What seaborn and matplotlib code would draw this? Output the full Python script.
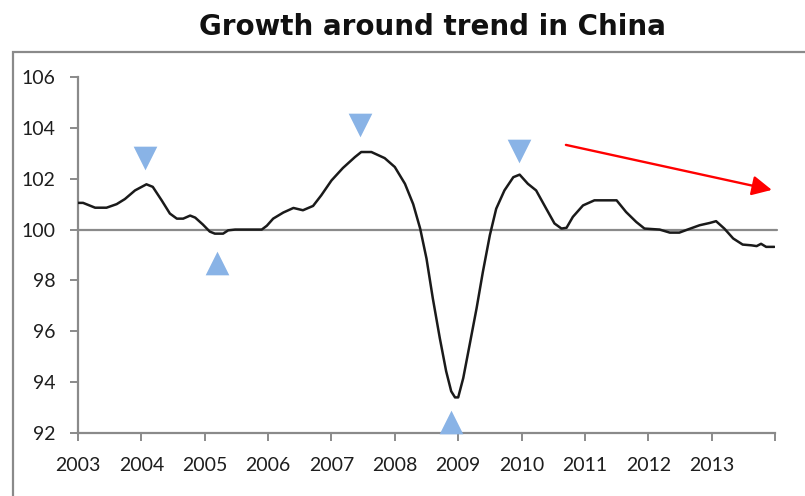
import matplotlib
matplotlib.use("Agg")
import matplotlib.pyplot as plt
from matplotlib.patches import Rectangle
import seaborn as sns
import pandas as pd

# ---- data ----
years = [2003.00, 2003.08, 2003.27, 2003.45, 2003.61, 2003.74, 2003.90, 2004.08, 2004.18,
         2004.32, 2004.45, 2004.56, 2004.66, 2004.77, 2004.85, 2004.97, 2005.08, 2005.16,
         2005.29, 2005.37, 2005.48, 2005.90, 2005.98, 2006.08, 2006.24, 2006.40, 2006.55,
         2006.71, 2006.84, 2007.00, 2007.18, 2007.37, 2007.47, 2007.63, 2007.84, 2008.00,
         2008.08, 2008.16, 2008.29, 2008.40, 2008.50, 2008.60, 2008.71, 2008.81, 2008.89,
         2008.95, 2009.00, 2009.08, 2009.18, 2009.29, 2009.39, 2009.50, 2009.60, 2009.73,
         2009.87, 2009.97, 2010.10, 2010.23, 2010.39, 2010.52, 2010.63, 2010.71, 2010.81,
         2010.97, 2011.15, 2011.50, 2011.65, 2011.81, 2011.94, 2012.18, 2012.34, 2012.49,
         2012.62, 2012.81, 2012.97, 2013.07, 2013.20, 2013.34, 2013.49, 2013.63, 2013.71,
         2013.78, 2013.86, 2013.99]
growth = [101.05, 101.05, 100.86, 100.86, 101.00, 101.20, 101.54, 101.78, 101.68,
          101.15, 100.63, 100.43, 100.43, 100.55, 100.47, 100.20, 99.92, 99.84,
          99.84, 99.97, 100.00, 100.00, 100.15, 100.43, 100.67, 100.85, 100.76,
          100.93, 101.35, 101.93, 102.42, 102.85, 103.05, 103.05, 102.81, 102.46,
          102.13, 101.80, 101.00, 100.04, 98.86, 97.29, 95.73, 94.43, 93.64,
          93.40, 93.40, 94.16, 95.46, 96.90, 98.34, 99.78, 100.82, 101.54,
          102.06, 102.16, 101.80, 101.54, 100.82, 100.24, 100.04, 100.07, 100.50,
          100.95, 101.15, 101.15, 100.69, 100.30, 100.04, 100.00, 99.88, 99.88,
          100.00, 100.17, 100.26, 100.33, 100.04, 99.65, 99.41, 99.38, 99.35,
          99.44, 99.32, 99.32]

peak_x = [2004.06, 2007.45, 2009.96]
peak_y = [102.8, 104.1, 103.1]
trough_x = [2005.20, 2008.89]
trough_y = [98.67, 92.45]

year_ticks = list(range(2003, 2015))
year_labels = [str(y) for y in range(2003, 2014)] + [""]
y_ticks = [92, 94, 96, 98, 100, 102, 104, 106]

arrow_start = (2010.70, 103.33)
arrow_end = (2013.95, 101.56)

title = "Growth around trend in China"

# ---- plot ----
sns.set_theme(style="white")
plt.rcParams["font.family"] = ["Lato", "DejaVu Sans"]

fig = plt.figure(figsize=(8.05, 4.96), dpi=100)
ax = fig.add_axes([78 / 805, 1 - 433 / 496, (775 - 78) / 805, (433 - 77) / 496])

grey = "#8a8a8a"
ax.axhline(100, color=grey, lw=1.6, zorder=1, xmax=1.003, clip_on=False)

df = pd.DataFrame({"year": years, "growth": growth})
sns.lineplot(data=df, x="year", y="growth", ax=ax, color="#1a1a1a", lw=1.8,
             sort=False, zorder=3)
for ln in ax.lines:
    ln.set_solid_joinstyle("round")

blue = "#89B3E6"
sns.scatterplot(x=peak_x, y=peak_y, marker="v", s=290, color=blue, linewidth=0,
                ax=ax, zorder=4, clip_on=False)
sns.scatterplot(x=trough_x, y=trough_y, marker="^", s=290, color=blue, linewidth=0,
                ax=ax, zorder=4, clip_on=False)

ax.annotate("", xy=arrow_end, xytext=arrow_start,
            arrowprops=dict(arrowstyle="-|>", color="#ff0000", lw=1.7,
                            mutation_scale=30, shrinkA=0, shrinkB=0),
            annotation_clip=False)

ax.set_xlim(2003, 2014)
ax.set_ylim(92, 106)
ax.set_xticks(year_ticks)
ax.set_xticklabels(year_labels)
ax.set_yticks(y_ticks)
ax.set_xlabel("")
ax.set_ylabel("")

for s in ["top", "right"]:
    ax.spines[s].set_visible(False)
for s in ["left", "bottom"]:
    ax.spines[s].set_color(grey)
    ax.spines[s].set_linewidth(1.6)

ax.tick_params(axis="both", direction="out", length=6, width=1.4, color=grey,
               labelsize=14, labelcolor="#1e1e1e")
ax.tick_params(axis="y", pad=10)
ax.tick_params(axis="x", pad=11)
ax.tick_params(bottom=True, left=True)

fig.text(432 / 805, 1 - 27 / 496, title, ha="center", va="center",
         fontsize=20, fontweight="bold", family="DejaVu Sans", color="#111111")

fig.patches.append(Rectangle((13 / 805, -0.05), 1.2, 1 - 52 / 496 + 0.05,
                             transform=fig.transFigure, fill=False,
                             edgecolor=grey, lw=1.6))

fig.savefig("out.png", dpi=100)
